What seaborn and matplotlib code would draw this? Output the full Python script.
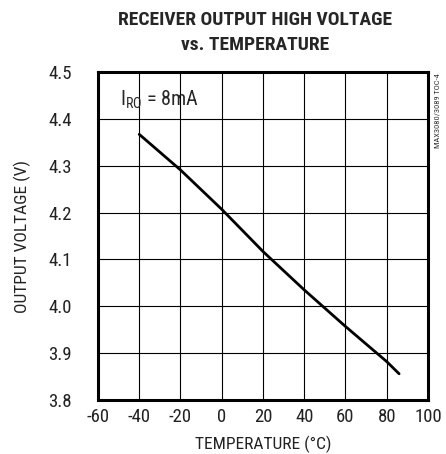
import matplotlib
matplotlib.use("Agg")
import matplotlib.pyplot as plt
import seaborn as sns
import pandas as pd

# curve
temperature = [-40, -20, 0, 20, 40, 60, 80, 86]
voltage = [4.367, 4.291, 4.207, 4.117, 4.035, 3.957, 3.882, 3.856]

x_ticks = [-60, -40, -20, 0, 20, 40, 60, 80, 100]
y_ticks = [3.8, 3.9, 4.0, 4.1, 4.2, 4.3, 4.4, 4.5]
y_tick_labels = ["3.8", "3.9", "4.0", "4.1", "4.2", "4.3", "4.4", "4.5"]

sns.set_style("white")
narrow = ["Roboto Condensed", "DejaVu Sans"]
plt.rcParams["font.family"] = narrow
plt.rcParams["axes.unicode_minus"] = False
plt.rcParams["mathtext.fontset"] = "custom"
plt.rcParams["mathtext.rm"] = "Roboto Condensed"

df = pd.DataFrame({"temp": temperature, "vout": voltage})

fig = plt.figure(figsize=(4.46, 4.54), dpi=100)
ax = fig.add_axes([0.2197, 0.1189, 0.7399, 0.7225])

sns.lineplot(data=df, x="temp", y="vout", ax=ax, color="black", linewidth=2.0)

ax.set_xlim(-60, 100)
ax.set_ylim(3.8, 4.5)
ax.set_xticks(x_ticks)
ax.set_yticks(y_ticks)
ax.set_yticklabels(y_tick_labels)
ax.tick_params(axis="both", length=0, labelsize=13.5, colors="#222222")
ax.tick_params(axis="y", pad=19)
ax.tick_params(axis="x", pad=6)
ax.grid(True, color="black", linewidth=0.8)
for s in ax.spines.values():
    s.set_visible(True)
    s.set_color("black")
    s.set_linewidth(2.2)

ax.set_xlabel("TEMPERATURE (°C)", fontsize=12.5, color="#222222", labelpad=7)
ax.set_ylabel("OUTPUT VOLTAGE (V)", fontsize=12.5, color="#222222", labelpad=12)

ax.text(-49.3, 4.44, r"I$_{\mathrm{RO}}$ = 8mA", fontsize=14.5, va="center", ha="left")

fig.text(255 / 446, 1 - 20 / 454, "RECEIVER OUTPUT HIGH VOLTAGE", ha="center", va="center",
         fontsize=14, fontweight="bold")
fig.text(255 / 446, 1 - 45 / 454, "vs. TEMPERATURE", ha="center", va="center",
         fontsize=14, fontweight="bold")
fig.text(437 / 446, 1 - 73 / 454, "MAX3080/3089 TOC-4", rotation=90, ha="center", va="top",
         fontsize=6, color="#333333")

fig.savefig("out.png", dpi=100)
